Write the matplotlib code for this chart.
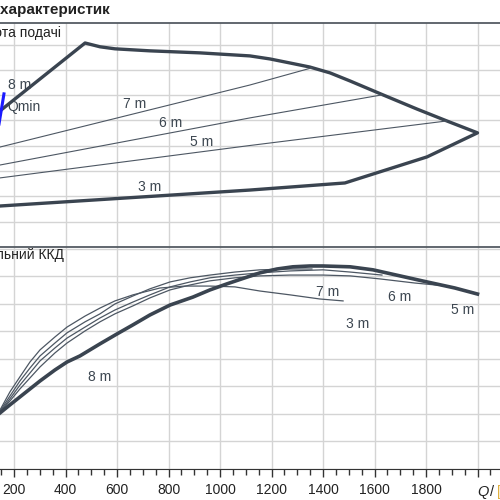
import numpy as np
from matplotlib import pyplot as plt

plt.rcParams['font.family'] = ['Liberation Sans', 'DejaVu Sans']

# head chart (top)
env_q = [146, 476, 534, 592, 728, 922, 1116, 1194, 1272, 1349, 1427, 1505, 1633, 1765, 1881, 2000,
         1804, 1485, 1116, 146]
env_h = [5.38, 8.06, 7.91, 7.83, 7.75, 7.67, 7.55, 7.43, 7.27, 7.11, 6.88, 6.56, 6.01, 5.45, 4.98, 4.51,
         3.56, 2.53, 2.25, 1.62]
q7_top = [146, 1116, 1357]
h7_top = [3.95, 6.40, 7.08]
q6_top = [146, 1116, 1629]
h6_top = [3.24, 5.10, 6.01]
q5_top = [146, 1116, 1881]
h5_top = [2.73, 4.01, 4.98]
qmin_q = [161, 140]
qmin_h = [6.05, 4.75]

# efficiency chart (bottom)
q8 = [146, 184, 223, 262, 301, 359, 406, 456, 495, 534, 600, 662, 728, 806, 895, 961, 1027,
      1097, 1155, 1221, 1283, 1349, 1400, 1505, 1594, 1699, 1804, 1912, 2000]
e8 = [20.4, 23.3, 26.2, 29.1, 32.0, 36.0, 38.9, 41.1, 43.3, 45.5, 49.1, 52.4, 56.0, 59.6, 62.5,
      65.1, 67.3, 69.5, 71.3, 72.7, 73.5, 73.8, 73.8, 73.5, 72.4, 70.2, 68.0, 65.8, 63.6]
q7 = [146, 184, 223, 262, 301, 359, 406, 476, 534, 592, 662, 728, 806, 884, 961, 1058, 1155,
      1272, 1357]
e7 = [21.1, 26.5, 32.0, 36.7, 41.1, 45.8, 49.5, 53.5, 56.4, 60.0, 62.9, 65.5, 68.0, 69.5, 70.5,
      71.6, 72.4, 72.7, 72.7]
q6 = [146, 184, 223, 262, 301, 359, 406, 476, 534, 592, 662, 728, 806, 884, 961, 1058, 1155,
      1272, 1400, 1505, 1629]
e6 = [20.7, 25.5, 30.5, 34.9, 39.3, 44.0, 47.6, 51.6, 54.9, 57.8, 60.7, 63.3, 66.2, 68.0, 69.5,
      70.5, 71.3, 72.0, 72.4, 71.6, 70.5]
q5 = [146, 184, 223, 262, 301, 359, 406, 476, 534, 592, 662, 728, 806, 884, 961, 1058, 1155,
      1272, 1400, 1505, 1621, 1757, 1881]
e5 = [20.7, 24.7, 29.1, 33.1, 37.1, 42.2, 45.8, 50.2, 53.5, 56.4, 59.3, 62.2, 65.1, 66.9, 68.4,
      69.5, 70.2, 70.5, 70.5, 70.2, 69.1, 67.6, 66.5]
q3 = [146, 184, 223, 262, 301, 359, 406, 476, 534, 592, 662, 767, 864, 961, 1058, 1155, 1272,
      1388, 1478]
e3 = [21.5, 28.0, 33.5, 38.9, 43.3, 48.0, 51.6, 55.6, 58.5, 61.1, 63.3, 65.8, 66.5, 66.5, 66.2,
      64.7, 63.3, 61.8, 61.1]

xticks = [200, 400, 600, 800, 1000, 1200, 1400, 1600, 1800]

dark = '#3a4450'
thin = '#4d5763'
grid = '#d4d4d4'
txt = '#3c4650'

fig = plt.figure(figsize=(5, 5), dpi=100)
ax1 = fig.add_axes([-0.075, 0.506, 1.133, 0.448])
ax2 = fig.add_axes([-0.075, 0.062, 1.133, 0.444])

for ax in (ax1, ax2):
    ax.set_xlim(0, 2200)
    ax.set_xticks(np.arange(0, 2201, 200))
    ax.grid(True, color=grid, lw=1.0)
    ax.set_axisbelow(True)
    for s in ['left', 'right']:
        ax.spines[s].set_visible(False)
    ax.tick_params(left=False, labelleft=False)

ax1.set_ylim(0, 8.85)
ax1.set_yticks(np.arange(0, 9, 1))
ax1.spines['bottom'].set_visible(False)
ax1.spines['top'].set_color('#555c63')
ax1.spines['top'].set_linewidth(1.3)
ax1.tick_params(bottom=False, labelbottom=False)

ax1.plot(env_q, env_h, color=dark, lw=2.4, solid_joinstyle='round')
ax1.plot(q7_top, h7_top, color=thin, lw=0.8)
ax1.plot(q6_top, h6_top, color=thin, lw=0.8)
ax1.plot(q5_top, h5_top, color=thin, lw=0.8)
ax1.plot(qmin_q, qmin_h, color='#1a1aff', lw=2.2)

ax1.text(223, 6.40, '8 m', color=txt, fontsize=10, ha='center', va='center')
ax1.text(173, 5.53, 'Qmin', color=txt, fontsize=10, ha='left', va='center')
ax1.text(670, 5.65, '7 m', color=txt, fontsize=10, ha='center', va='center')
ax1.text(810, 4.90, '6 m', color=txt, fontsize=10, ha='center', va='center')
ax1.text(930, 4.15, '5 m', color=txt, fontsize=10, ha='center', va='center')
ax1.text(728, 2.37, '3 m', color=txt, fontsize=10, ha='center', va='center')

ax2.set_ylim(0, 80.7)
ax2.set_yticks(np.arange(0, 81, 10))
ax2.spines['top'].set_color('#555c63')
ax2.spines['top'].set_linewidth(1.3)
ax2.spines['bottom'].set_color('#333')
ax2.set_xticks(xticks + [2000])
ax2.set_xticklabels([str(v) for v in xticks] + [''])
ax2.set_xticks(np.arange(0, 2201, 50), minor=True)
ax2.tick_params(axis='x', which='major', direction='out', length=6, width=1,
                color='#333', labelsize=10, pad=4, labelcolor='#222')
ax2.tick_params(axis='x', which='minor', direction='out', length=4, width=1, color='#333')

ax2.plot(q3, e3, color=thin, lw=0.9)
ax2.plot(q5, e5, color=thin, lw=0.9)
ax2.plot(q6, e6, color=thin, lw=0.9)
ax2.plot(q7, e7, color=thin, lw=0.9)
ax2.plot(q8, e8, color=dark, lw=2.6)

ax2.text(534, 33.5, '8 m', color=txt, fontsize=10, ha='center', va='center')
ax2.text(1419, 64.4, '7 m', color=txt, fontsize=10, ha='center', va='center')
ax2.text(1699, 62.5, '6 m', color=txt, fontsize=10, ha='center', va='center')
ax2.text(1943, 57.8, '5 m', color=txt, fontsize=10, ha='center', va='center')
ax2.text(1536, 52.7, '3 m', color=txt, fontsize=10, ha='center', va='center')

# axis label in place of the 2000 tick label
fig.text(477 / 500, 1 - 492 / 500, 'Q', style='italic', fontsize=10.5, color='#222',
         ha='left', va='center')
fig.text(490 / 500, 1 - 492 / 500, '/', fontsize=10.5, color='#222', ha='left', va='center')
fig.text(496.5 / 500, 1 - 492 / 500, '[m³/h]', fontsize=10.5, color='#e0b040',
         ha='left', va='center')

fig.text(110 / 500, 1 - 10 / 500, 'Діаграма характеристик', fontsize=11, fontweight='bold',
         color='#222', ha='right', va='center')
fig.text(61 / 500, 1 - 33 / 500, 'Висота подачі', fontsize=10, color='#222',
         ha='right', va='center')
fig.text(64 / 500, 1 - 255 / 500, 'Загальний ККД', fontsize=10, color='#222',
         ha='right', va='center')

fig.savefig('out.png', dpi=100)
